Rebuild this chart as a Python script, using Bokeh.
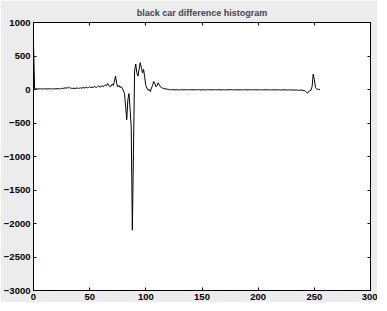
from bokeh.plotting import figure
from bokeh.models import LinearAxis, Range1d, FixedTicker
from bokeh.embed import file_html
from bokeh.resources import INLINE

# histogram difference values for gray levels 0..255
gray_level = list(range(256))
difference = [
    680,
    10, 8, 12, 6, 9, 11, 7, 10, 8, 9,
    12, 6, 10, 8, 14, 9, 7, 11, 10, 8,
    12, 15, 10, 9, 18, 14, 20, 25, 18, 30,
    22, 35, 20, 18, 15, 22, 14, 18, 24, 16,
    20, 26, 18, 30, 22, 28, 35, 25, 32, 40,
    28, 35, 30, 45, 38, 30, 42, 55, 35, 40,
    60, 45, 50, 70, 55, 90, 60, 45, 50, 80,
    60, 120, 200, 90, 40, 60, 30, 45, 20, -20,
    -60, -250, -450, -150, -60, -300, -560, -2100, -900, 280,
    380, 250, 200, 300, 400, 330, 250, 300, 180, 60,
    20, -10, 0, -30, 20, 60, 120, 90, 40, 60,
    100, 70, 40, 30, 20, 15, 10, 8, 5, 3,
    -2, -4, -3, -5, -2, -6, -4, -3, -5, -7,
    -4, -2, -5, -6, -3, -4, -5, -2, -6, -4,
    -3, -5, -4, -6, -2, -5, -3, -4, -7, -5,
    -4, -6, -3, -5, -2, -4, -6, -5, -3, -4,
    -5, -3, -6, -4, -2, -5, -4, -7, -3, -5,
    -4, -6, -5, -3, -4, -2, -6, -5, -4, -3,
    -5, -4, -6, -3, -5, -7, -4, -5, -3, -6,
    -4, -5, -3, -6, -4, -5, -2, -6, -4, -5,
    -3, -5, -4, -6, -5, -3, -7, -4, -5, -6,
    -4, -6, -5, -3, -7, -5, -4, -6, -5, -8,
    -6, -5, -7, -4, -6, -8, -5, -7, -6, -9,
    -8, -6, -10, -7, -9, -12, -10, -8, -11, -14,
    -15, -25, -40, -55, -30, -20, -10, 40, 230, 150,
    30, 10, 5, 2, 0,
]
x_ticks = [0, 50, 100, 150, 200, 250, 300]
y_ticks = [-3000, -2500, -2000, -1500, -1000, -500, 0, 500, 1000]
title_text = "black car difference histogram"

FONT = "Liberation Sans"

p = figure(frame_width=337, frame_height=268,
           x_range=Range1d(0, 300), y_range=Range1d(-3000, 1000),
           output_backend="svg", toolbar_location=None, title=title_text,
           x_axis_location=None, y_axis_location=None,
           min_border_left=27, min_border_right=7, min_border_top=15, min_border_bottom=12)

p.title.align = "center"
p.title.text_font = FONT
p.title.text_font_size = "9px"
p.title.text_font_style = "bold"
p.title.standoff = 10
p.title.offset = 0

p.background_fill_color = "white"
p.border_fill_color = "#ececec"
p.outline_line_color = "black"
p.outline_line_width = 1
p.grid.visible = False

def make_axis(ticks, labels=True):
    ax = LinearAxis(ticker=FixedTicker(ticks=ticks))
    ax.axis_line_color = "black"
    ax.major_tick_line_color = "black"
    ax.major_tick_in = 3
    ax.major_tick_out = 0
    ax.minor_tick_line_color = None
    ax.major_label_text_font = FONT
    ax.major_label_text_font_style = "bold"
    ax.major_label_text_font_size = "9.5px"
    if labels:
        ax.major_label_text_color = "black"
        ax.major_label_standoff = 3
    else:
        ax.major_label_text_color = None
        ax.major_label_standoff = 0
    return ax

p.add_layout(make_axis(x_ticks), "below")
p.add_layout(make_axis(y_ticks), "left")
p.add_layout(make_axis(x_ticks, labels=False), "above")
p.add_layout(make_axis(y_ticks, labels=False), "right")

p.line(gray_level, difference, line_color="black", line_width=1)

open("out.html", "w").write(file_html(p, INLINE))
